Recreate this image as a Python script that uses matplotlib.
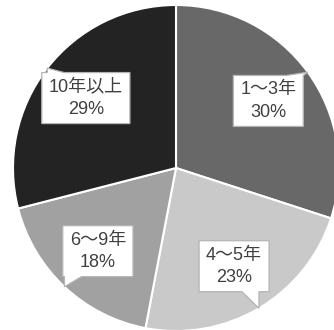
import numpy as np
import matplotlib
matplotlib.use('Agg')
import matplotlib.pyplot as plt
from matplotlib.patches import Polygon

plt.rcParams['font.family'] = ['Liberation Sans', 'Noto Sans CJK JP', 'DejaVu Sans']

labels = ['1～3年', '4～5年', '6～9年', '10年以上']
values = [30, 23, 18, 29]
colors = ['#686868', '#c9c9c9', '#a1a1a1', '#232323']

W, H, DPI = 334, 330, 100
fig = plt.figure(figsize=(W / DPI, H / DPI), dpi=DPI)
ax = fig.add_axes([0, 0, 1, 1])
R_PX = 163
cx, cy = 176, 168

wedges, _ = ax.pie(values, colors=colors, startangle=90, counterclock=False,
                   radius=1, wedgeprops=dict(edgecolor='white', linewidth=1.5))
ax.set_aspect('auto')
ax.set_xlim(-cx / R_PX, (W - cx) / R_PX)
ax.set_ylim(-(H - cy) / R_PX, cy / R_PX)
ax.axis('off')

total = sum(values)
texts = []
for w, lab, v in zip(wedges, labels, values):
    mid = np.deg2rad((w.theta1 + w.theta2) / 2)
    r_lab = 0.70
    t = ax.text(r_lab * np.cos(mid), r_lab * np.sin(mid), f"{lab}\n{round(100 * v / total)}%",
                ha='center', va='center', fontsize=13, color='#404040',
                linespacing=1.4, zorder=6)
    texts.append((t, mid))

fig.canvas.draw()
inv = ax.transData.inverted()
padx = 7
box_h = 51
tailw = 17
for t, mid in texts:
    bb = t.get_window_extent()
    xm, ym = ax.transData.transform(t.get_position())
    x0, x1 = bb.x0 - padx, bb.x1 + padx
    y0, y1 = ym - box_h / 2, ym + box_h / 2
    tip = ax.transData.transform((np.cos(mid), np.sin(mid)))
    tx, ty = tip
    xc = (x0 + x1) / 2
    if tx < xc:
        a = max(x0, tx); b = a + tailw
    else:
        b = min(x1, tx); a = b - tailw
    if ty > y1:
        verts = [(x0, y1), (a, y1), (tx, ty), (b, y1), (x1, y1), (x1, y0), (x0, y0)]
    else:
        verts = [(x0, y1), (x1, y1), (x1, y0), (b, y0), (tx, ty), (a, y0), (x0, y0)]
    dverts = inv.transform(verts)
    ax.add_patch(Polygon(dverts, closed=True, facecolor='white', edgecolor='#b4b4b4',
                         linewidth=0.9, zorder=5))

fig.savefig('out.png', dpi=DPI)
